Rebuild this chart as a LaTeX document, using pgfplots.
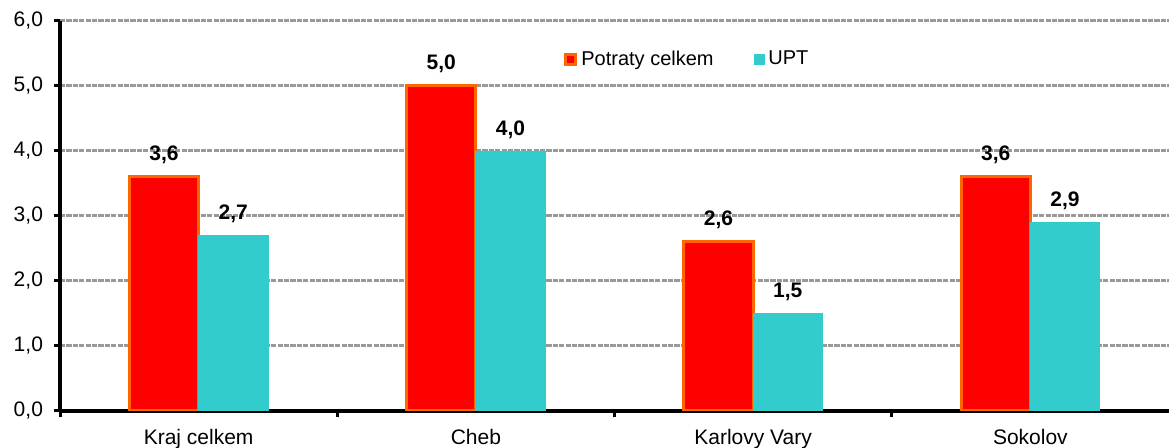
\documentclass[border=0pt]{standalone}
\usepackage{pgfplots}
\pgfplotsset{compat=1.18}
\usepackage{fontspec}
\setmainfont{Liberation Sans}
\definecolor{barred}{HTML}{FF0000}
\definecolor{barorange}{HTML}{FF6600}
\definecolor{barcyan}{HTML}{33CCCC}
\definecolor{gridgray}{HTML}{999999}
\begin{document}
\begin{tikzpicture}
\begin{axis}[
  name=main,
  scale only axis,
  width=554.5pt, height=195pt,
  xmin=-0.5, xmax=3.5, ymin=0, ymax=6,
  axis x line=bottom, axis y line=left,
  axis line style={-, black, line width=1.6pt},
  tick align=outside,
  major tick length=3pt,
  ytick={0,1,2,3,4,5,6},
  ytick style={black, line width=1.5pt},
  xtick={-0.5,0.5,1.5,2.5},
  xticklabels={,,,},
  xtick style={black, line width=1.5pt},
  extra x ticks={0,1,2,3},
  extra x tick labels={Kraj celkem, Cheb, Karlovy Vary, Sokolov},
  extra x tick style={major tick length=0pt, xticklabel style={yshift=-5.5pt}},
  ymajorgrids,
  major grid style={gridgray, line width=1.5pt, dash pattern=on 2.6pt off 0.6pt},
  tick label style={font=\fontsize{10.5}{12}\selectfont},
  yticklabel style={xshift=-2pt},
  /pgf/number format/.cd, use comma, fixed, fixed zerofill, precision=1, assume math mode=true,
  /pgfplots/.cd,
  ybar=0pt,
  bar width=0.25,
  nodes near coords,
  nodes near coords style={font=\fontsize{10.5}{12}\selectfont\bfseries, anchor=south, inner sep=0pt, yshift=6pt},
  legend style={at={(rel axis cs:0.449,0.945)}, anchor=north west, draw=none, fill=none,
    legend columns=2, font=\fontsize{10}{12}\selectfont,
    /tikz/every even column/.append style={column sep=18pt}},
  legend image code/.code={\draw[#1] (0pt,-2.5pt) rectangle (5pt,2.5pt);},
]
\addplot[fill=barred, draw=barorange, line width=1.5pt] coordinates {(0,3.6) (1,5.0) (2,2.6) (3,3.6)};
\addplot[fill=barcyan, draw=barcyan, line width=0.4pt] coordinates {(0,2.7) (1,4.0) (2,1.5) (3,2.9)};
\legend{Potraty celkem, UPT}
\end{axis}
\pgfresetboundingbox
\path ([xshift=-30pt,yshift=-18.5pt]main.south west) rectangle ([yshift=10.5pt]main.north east);
\end{tikzpicture}
\end{document}
